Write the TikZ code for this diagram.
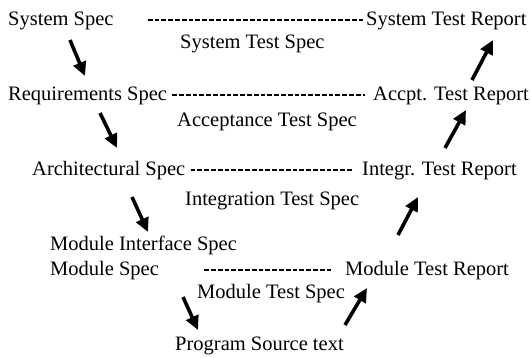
\documentclass[tikz,border=0pt]{standalone}
\usepackage{fontspec}
\setmainfont{Liberation Serif}
\usetikzlibrary{arrows.meta, positioning}

\begin{document}
\begin{tikzpicture}[
         x=1pt, y=-1pt,
         label/.style={anchor=base west, inner sep=0pt, text height=14pt, text depth=4.5pt,
                       font=\fontsize{20.5}{24}\selectfont},
         dashline/.style={line width=2pt, dash pattern=on 4.8pt off 2pt},
         flow/.style={line width=3.6pt, -{Triangle[length=14pt, width=13pt]}}
      ]
         \useasboundingbox (0,0) rectangle (531,357);

         % Nodes for the specs (left side)
         \node[label] (sysspec) at (8,25) {System Spec};
         \node[label] (reqspec) at (8,100) {Requirements Spec};
         \node[label] (archspec) at (32,175) {Architectural Spec};
         \node[label] (modif) at (50,250) {Module Interface Spec};
         \node[label] (modspec) at (50,275) {Module Spec};
         \node[label] (progsrc) at (175,350) {Program Source text};

         % Nodes for the test specs
         \node[label] (systest) at (180,48) {System Test Spec};
         \node[label] (acctest) at (177,126) {Acceptance Test Spec};
         \node[label] (inttest) at (185,205) {Integration Test Spec};
         \node[label] (modtest) at (197,298) {Module Test Spec};

         % Nodes for the reports (right side)
         \node[label] (sysrep) at (366,25) {System Test Report};
         \node[label] (accrep) at (373,100) {Accpt. Test Report};
         \node[label] (intrep) at (362,175) {Integr. Test Report};
         \node[label] (modrep) at (345,275) {Module Test Report};

         % Dashed links between spec and report
         \draw[dashline, shorten <=34pt, shorten >=1pt] (sysspec.east) -- (sysrep.west);
         \draw[dashline, shorten <=5pt, shorten >=8pt] (reqspec.east) -- (accrep.west);
         \draw[dashline, shorten <=5pt, shorten >=9pt] (archspec.east) -- (intrep.west);
         \draw[dashline, shorten <=45pt, shorten >=12pt] (modspec.east) -- (modrep.west);

         % Arrow ends going down
         \coordinate (d1s) at (70,40);   \coordinate (d1e) at (85,76);
         \coordinate (d2s) at (100,113); \coordinate (d2e) at (117,148);
         \coordinate (d3s) at (132,197); \coordinate (d3e) at (148,232);
         \coordinate (d4s) at (183,297); \coordinate (d4e) at (198,330);
         % Arrow ends going up
         \coordinate (u1s) at (345,325); \coordinate (u1e) at (367,288);
         \coordinate (u2s) at (398,235); \coordinate (u2e) at (418,197);
         \coordinate (u3s) at (445,148); \coordinate (u3e) at (466,110);
         \coordinate (u4s) at (472,80);  \coordinate (u4e) at (493,40);

         % Arrows
         \foreach \a in {d1,d2,d3,d4,u1,u2,u3,u4}
            \draw[flow] (\a s) -- (\a e);
      \end{tikzpicture}
\end{document}
